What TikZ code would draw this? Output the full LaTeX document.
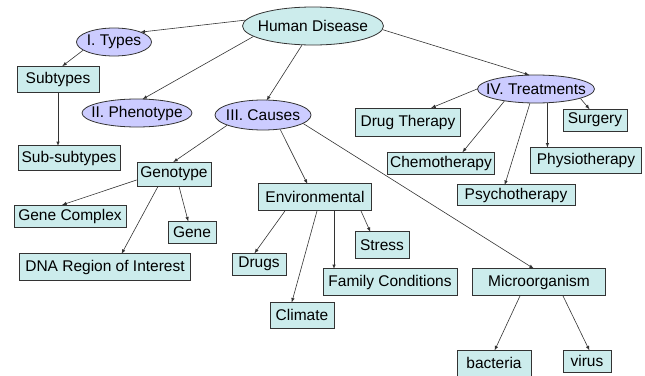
\documentclass[tikz,border=0pt]{standalone}
\usepackage{fontspec}
\setmainfont{Liberation Sans}
\usetikzlibrary{shapes.geometric}
\definecolor{boxfill}{HTML}{CCECEC}
\definecolor{ovalfill}{HTML}{CCCCFF}
\definecolor{edge}{HTML}{333333}
% ellipse size comes from minimum width/height only
\newcommand{\ovaltext}[1]{\makebox[0pt]{#1}}
\tikzset{
	box/.style={draw=edge, fill=boxfill, line width=0.8pt, inner sep=0pt, font=\fontsize{15.5}{18}\selectfont},
	oval/.style={ellipse, draw=edge, fill=ovalfill, line width=0.8pt, inner sep=0pt, font=\fontsize{15.5}{18}\selectfont},
	arr/.style={-latex, draw=edge, line width=0.6pt, shorten >=-1pt}
}
\begin{document}
\begin{tikzpicture}[x=1pt,y=-1pt]
	\useasboundingbox (0,0) rectangle (645,375);
	% top and main branches
	\node[oval, fill=boxfill, minimum width=141pt, minimum height=38pt] (hd) at (313,26) {\ovaltext{Human Disease}};
	\node[oval, minimum width=75pt, minimum height=28pt] (types) at (114,42) {\ovaltext{I. Types}};
	\node[oval, minimum width=110pt, minimum height=28pt] (pheno) at (137,113) {\ovaltext{II. Phenotype}};
	\node[oval, minimum width=96pt, minimum height=30pt] (causes) at (263,115) {\ovaltext{III. Causes}};
	\node[oval, minimum width=117pt, minimum height=28pt] (treat) at (536,89) {\ovaltext{IV. Treatments}};
	% types
	\node[box, minimum width=82pt, minimum height=26pt] (subtypes) at (58,79) {Subtypes};
	\node[box, minimum width=102pt, minimum height=25pt] (subsub) at (69,158) {Sub-subtypes};
	% causes
	\node[box, minimum width=74pt, minimum height=24pt] (geno) at (174,174) {Genotype};
	\node[box, minimum width=112pt, minimum height=22pt] (genecx) at (70,216) {Gene Complex};
	\node[box, minimum width=48pt, minimum height=22pt] (gene) at (192,232) {Gene};
	\node[box, minimum width=171pt, minimum height=27pt] (dna) at (105,267) {DNA Region of Interest};
	\node[box, minimum width=113pt, minimum height=27pt] (env) at (315,197) {Environmental};
	\node[box, minimum width=54pt, minimum height=22pt] (drugs) at (259,264) {Drugs};
	\node[box, minimum width=64pt, minimum height=26pt] (climate) at (302,315) {Climate};
	\node[box, minimum width=54pt, minimum height=27pt] (stress) at (382,245) {Stress};
	\node[box, minimum width=134pt, minimum height=27pt] (family) at (390,282) {Family Conditions};
	\node[box, minimum width=133pt, minimum height=27pt] (micro) at (539,282) {Microorganism};
	\node[box, minimum width=74pt, minimum height=26pt] (bacteria) at (494,363) {bacteria};
	\node[box, minimum width=48pt, minimum height=22pt] (virus) at (587,361) {virus};
	% treatments
	\node[box, minimum width=105pt, minimum height=28pt] (drugth) at (408,122) {Drug Therapy};
	\node[box, minimum width=64pt, minimum height=22pt] (surgery) at (595,120) {Surgery};
	\node[box, minimum width=107pt, minimum height=22pt] (chemo) at (441,163) {Chemotherapy};
	\node[box, minimum width=111pt, minimum height=26pt] (physio) at (586,160) {Physiotherapy};
	\node[box, minimum width=118pt, minimum height=21pt] (psycho) at (516,195) {Psychotherapy};

	% connectors
	\draw[arr] (hd.175) -- (types.20);
	\draw[arr] (hd.-170) -- (pheno.66);
	\draw[arr] (hd.-120) -- (causes.75);
	\draw[arr] (hd.-3) -- (treat.118);
	\draw[arr] (types.-165) -- ([xshift=5pt]subtypes.north);
	\draw[arr] (subtypes.south) -- (subtypes.south |- subsub.north);
	\draw[arr] (causes.-164) -- (geno.north);
	\draw[arr] (causes.-40) -- ([xshift=-8pt]env.north);
	\draw[arr] (causes.-12) -- ([xshift=-6pt]micro.north);
	\draw[arr] ([yshift=-6pt]geno.west) -- ([xshift=-7pt]genecx.north);
	\draw[arr] ([xshift=-16pt]geno.south) -- ([xshift=17pt]dna.north);
	\draw[arr] ([xshift=5pt]geno.south) -- ([xshift=-4pt]gene.north);
	\draw[arr] ([xshift=-30pt]env.south) -- ([xshift=-4pt]drugs.north);
	\draw[arr] ([xshift=2pt]env.south) -- ([xshift=-10pt]climate.north);
	\draw[arr] ([xshift=19pt]env.south) -- ([xshift=19pt]env.south |- family.north);
	\draw[arr] ([xshift=46pt]env.south) -- ([xshift=-12pt]stress.north);
	\draw[arr] ([xshift=-19pt]micro.south) -- ([xshift=1pt]bacteria.north);
	\draw[arr] ([xshift=24pt]micro.south) -- ([xshift=2pt]virus.north);
	\draw[arr] (treat.west) -- ([xshift=24pt]drugth.north);
	\draw[arr] (treat.-159) -- ([xshift=22pt]chemo.north);
	\draw[arr] (treat.-113) -- ([xshift=-11pt]psycho.north);
	\draw[arr] (treat.-51) -- (treat.-51 |- physio.north);
	\draw[arr] (treat.-12) -- ([xshift=-6pt]surgery.north);
\end{tikzpicture}
\end{document}
